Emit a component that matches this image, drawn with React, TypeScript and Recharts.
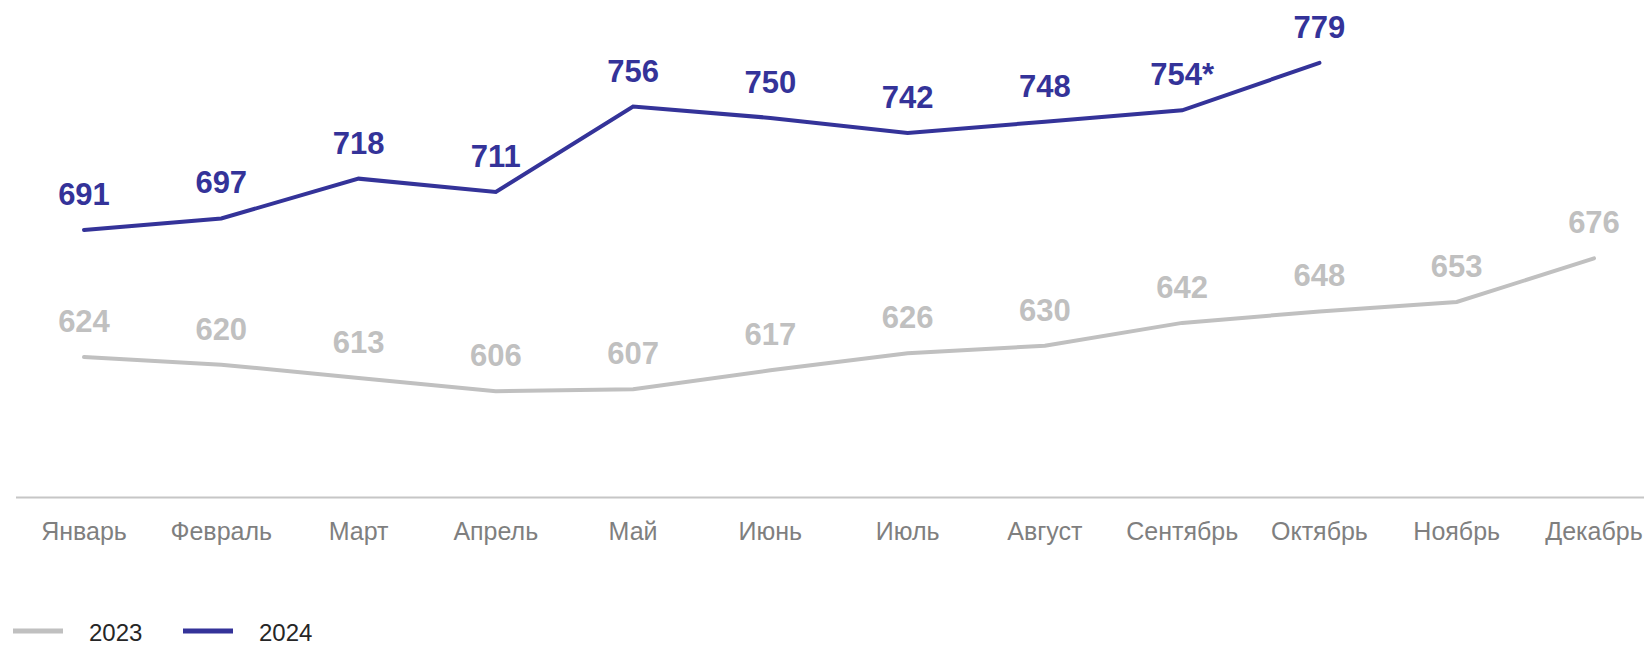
import { LineChart, Line, XAxis, YAxis, LabelList } from 'recharts';

const months = [
  'Январь',
  'Февраль',
  'Март',
  'Апрель',
  'Май',
  'Июнь',
  'Июль',
  'Август',
  'Сентябрь',
  'Октябрь',
  'Ноябрь',
  'Декабрь',
];

const values2023 = [624, 620, 613, 606, 607, 617, 626, 630, 642, 648, 653, 676];
const values2024 = [691, 697, 718, 711, 756, 750, 742, 748, 754, 779, null, null];
// footnote marks shown next to some 2024 values
const notes2024 = ['', '', '', '', '', '', '', '', '*', '', '', ''];

const COLOR_2023 = '#c0c0c0';
const COLOR_2024 = '#343399';
const FONT = '"Liberation Sans", Arial, sans-serif';

const data = months.map((month, i) => ({
  month,
  y2023: values2023[i],
  y2024: values2024[i],
  label2024: values2024[i] == null ? '' : `${values2024[i]}${notes2024[i]}`,
}));

const legendItems = [
  { name: '2023', color: COLOR_2023 },
  { name: '2024', color: COLOR_2024 },
];

export default function App() {
  return (
    <div style={{ position: 'relative', width: 1644, height: 647, fontFamily: FONT }}>
      <style>{'body{margin:0}'}</style>
      <LineChart
        width={1644}
        height={647}
        data={data}
        margin={{ top: 23, right: 0, bottom: 0, left: 16 }}
      >
        <XAxis
          dataKey="month"
          height={149.5}
          interval={0}
          padding={{ left: 68, right: 50 }}
          axisLine={{ stroke: '#c6c6c6', strokeWidth: 2 }}
          tickLine={false}
          tickSize={6}
          tickMargin={19}
          tick={{ fill: '#7f7f7f', fontSize: 25, fontFamily: FONT }}
        />
        <YAxis hide domain={[550, 800]} />
        <Line
          dataKey="y2023"
          stroke={COLOR_2023}
          strokeWidth={4}
          strokeLinecap="round"
          dot={false}
          activeDot={false}
          isAnimationActive={false}
        >
          <LabelList
            dataKey="y2023"
            position="top"
            offset={25}
            fill={COLOR_2023}
            fontSize={31}
            fontWeight="bold"
            fontFamily={FONT}
          />
        </Line>
        <Line
          dataKey="y2024"
          stroke={COLOR_2024}
          strokeWidth={4}
          strokeLinecap="round"
          dot={false}
          activeDot={false}
          isAnimationActive={false}
        >
          <LabelList
            dataKey="label2024"
            position="top"
            offset={25}
            fill={COLOR_2024}
            fontSize={31}
            fontWeight="bold"
            fontFamily={FONT}
          />
        </Line>
      </LineChart>

      {/* legend under the axis */}
      <svg width={400} height={47} style={{ position: 'absolute', left: 0, top: 600 }}>
        {legendItems.map((item, i) => {
          const x = 13 + i * 170;
          return (
            <g key={item.name}>
              <line x1={x} x2={x + 50} y1={31} y2={31} stroke={item.color} strokeWidth={5} />
              <text x={x + 76} y={41} fontSize={24} fill="#262626" fontFamily={FONT}>
                {item.name}
              </text>
            </g>
          );
        })}
      </svg>
    </div>
  );
}
